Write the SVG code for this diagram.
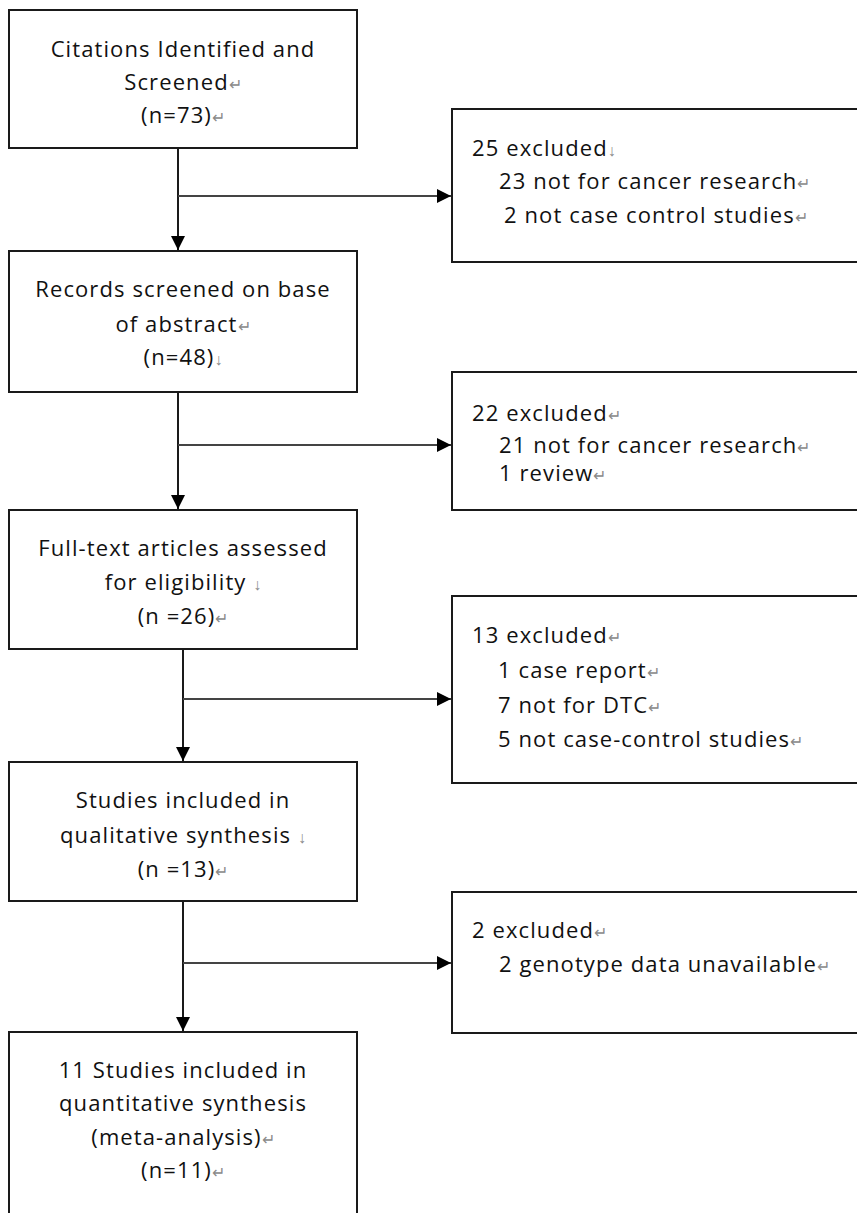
<svg xmlns="http://www.w3.org/2000/svg" width="857" height="1213" viewBox="0 0 857 1213">
<style>
.box{fill:#fff;stroke:#1a1a1a;stroke-width:2}
.t{font-family:"Open Sans","Liberation Sans",sans-serif;font-size:22px;letter-spacing:1.1px;fill:#111}
.c{text-anchor:middle}
.m{fill:#8a8a8a;font-size:16px;letter-spacing:0}
.ln{stroke:#1a1a1a;stroke-width:2;fill:none}
.lh{stroke:#444;stroke-width:2;fill:none}
</style>
<defs>
<marker id="ah" viewBox="0 0 10 10" refX="10" refY="5" markerWidth="7" markerHeight="7" markerUnits="strokeWidth" orient="auto">
<path d="M0,0 L10,5 L0,10 z" fill="#000"/>
</marker>
</defs>
<rect width="857" height="1213" fill="#fff"/>
<g id="connectors">
<line class="ln" x1="178" y1="148" x2="178" y2="250" marker-end="url(#ah)"/>
<line class="lh" x1="178" y1="196" x2="451" y2="196" marker-end="url(#ah)"/>
<line class="ln" x1="178" y1="392" x2="178" y2="509" marker-end="url(#ah)"/>
<line class="lh" x1="178" y1="445" x2="451" y2="445" marker-end="url(#ah)"/>
<line class="ln" x1="183" y1="649" x2="183" y2="761" marker-end="url(#ah)"/>
<line class="lh" x1="183" y1="699" x2="451" y2="699" marker-end="url(#ah)"/>
<line class="ln" x1="183" y1="901" x2="183" y2="1031" marker-end="url(#ah)"/>
<line class="lh" x1="183" y1="963" x2="451" y2="963" marker-end="url(#ah)"/>
</g>
<g id="n1">
<rect class="box" x="9" y="10" width="348" height="138"/>
<text class="t c" x="183" y="57">Citations Identified and</text>
<text class="t c" x="183" y="90">Screened<tspan class="m">↵</tspan></text>
<text class="t c" x="183" y="123">(n=73)<tspan class="m">↵</tspan></text>
</g>
<g id="e1">
<rect class="box" x="452" y="109" width="420" height="153"/>
<text class="t" x="472" y="156">25 excluded<tspan class="m">↓</tspan></text>
<text class="t" x="499" y="189">23 not for cancer research<tspan class="m">↵</tspan></text>
<text class="t" x="504" y="223">2 not case control studies<tspan class="m">↵</tspan></text>
</g>
<g id="n2">
<rect class="box" x="9" y="251" width="348" height="141"/>
<text class="t c" x="183" y="297">Records screened on base</text>
<text class="t c" x="183" y="332">of abstract<tspan class="m">↵</tspan></text>
<text class="t c" x="183" y="365">(n=48)<tspan class="m">↓</tspan></text>
</g>
<g id="e2">
<rect class="box" x="452" y="372" width="420" height="138"/>
<text class="t" x="472" y="421">22 excluded<tspan class="m">↵</tspan></text>
<text class="t" x="499" y="453">21 not for cancer research<tspan class="m">↵</tspan></text>
<text class="t" x="499" y="481">1 review<tspan class="m">↵</tspan></text>
</g>
<g id="n3">
<rect class="box" x="9" y="510" width="348" height="139"/>
<text class="t c" x="183" y="556">Full-text articles assessed</text>
<text class="t c" x="183" y="590">for eligibility <tspan class="m">↓</tspan></text>
<text class="t c" x="183" y="624">(n =26)<tspan class="m">↵</tspan></text>
</g>
<g id="e3">
<rect class="box" x="452" y="596" width="420" height="187"/>
<text class="t" x="472" y="643">13 excluded<tspan class="m">↵</tspan></text>
<text class="t" x="498" y="678">1 case report<tspan class="m">↵</tspan></text>
<text class="t" x="498" y="713">7 not for DTC<tspan class="m">↵</tspan></text>
<text class="t" x="498" y="747">5 not case-control studies<tspan class="m">↵</tspan></text>
</g>
<g id="n4">
<rect class="box" x="9" y="762" width="348" height="139"/>
<text class="t c" x="183" y="808">Studies included in</text>
<text class="t c" x="183" y="843">qualitative synthesis <tspan class="m">↓</tspan></text>
<text class="t c" x="183" y="877">(n =13)<tspan class="m">↵</tspan></text>
</g>
<g id="e4">
<rect class="box" x="452" y="892" width="420" height="141"/>
<text class="t" x="472" y="938">2 excluded<tspan class="m">↵</tspan></text>
<text class="t" x="499" y="972">2 genotype data unavailable<tspan class="m">↵</tspan></text>
</g>
<g id="n5">
<rect class="box" x="9" y="1032" width="348" height="200"/>
<text class="t c" x="183" y="1078">11 Studies included in</text>
<text class="t c" x="183" y="1111">quantitative synthesis</text>
<text class="t c" x="183" y="1145">(meta-analysis)<tspan class="m">↵</tspan></text>
<text class="t c" x="183" y="1178">(n=11)<tspan class="m">↵</tspan></text>
</g>
</svg>
